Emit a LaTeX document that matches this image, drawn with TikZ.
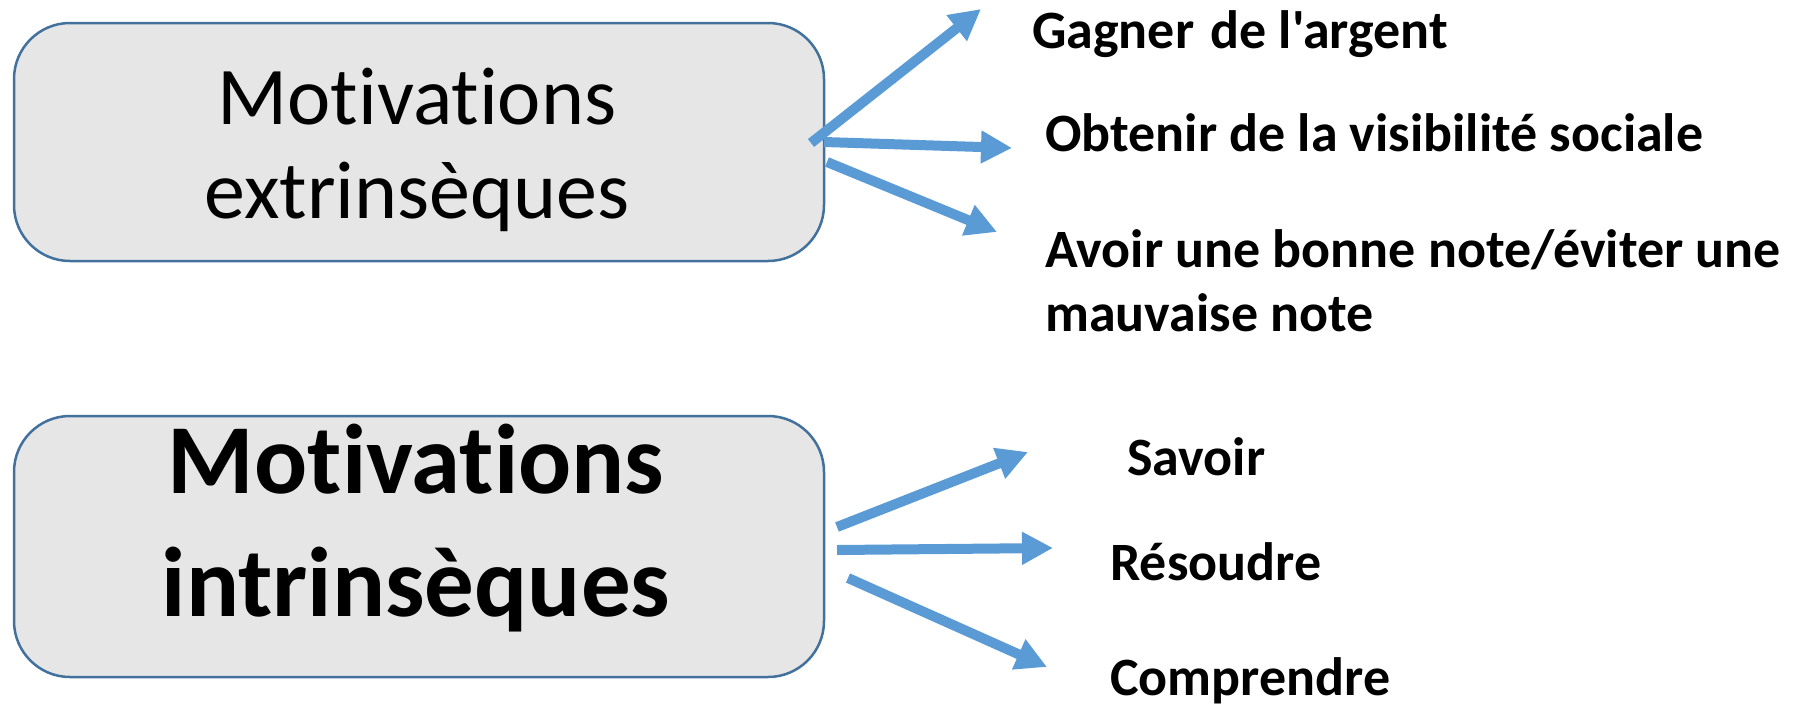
\documentclass[tikz,border=0pt]{standalone}
\usepackage{fontspec}
\setmainfont{Carlito}[Ligatures={NoCommon,TeXOff}]
\usetikzlibrary{arrows.meta}

\definecolor{boxfill}{HTML}{E6E6E6}
\definecolor{boxline}{HTML}{41719C}
\definecolor{arrowblue}{HTML}{5B9BD5}

\begin{document}
\begin{tikzpicture}[x=1pt,y=-1pt,
  motivbox/.style={draw=boxline, line width=2.5pt, fill=boxfill,
    rounded corners=56pt, inner sep=0pt},
  titleplain/.style={anchor=base, inner sep=0pt, font=\fontsize{82}{94}\selectfont},
  titlebold/.style={anchor=base, inner sep=0pt, font=\fontsize{99}{118}\selectfont\bfseries},
  item/.style={anchor=base west, inner sep=0pt, font=\fontsize{54}{64}\selectfont\bfseries},
  bigarrow/.style={draw=arrowblue, line width=10pt, line cap=butt,
    -{Triangle[length=31pt,width=31pt]}}
]
\useasboundingbox (0,0) rectangle (1800,707);

% the two category boxes
\node[motivbox, minimum width=810pt, minimum height=238pt] (ext) at (419,142) {};
\node[motivbox, minimum width=810pt, minimum height=261pt] (int) at (419,546.5) {};

% box titles
\node[titleplain] (ext1) at (417,124) {Motivations};
\node[titleplain] (ext2) at (417,218) {extrinsèques};
\node[titlebold] (int1) at (416,493) {Motivations};
\node[titlebold] (int2) at (416,616) {intrinsèques};

% extrinsic goals
\node[item] (argent) at (1032,48) {Gagner\hspace{4pt} de l'argent};
\node[item] (visib) at (1045,151) {Obtenir de la visibilité sociale};
\node[item] (note1) at (1045,267) {Avoir une bonne note/éviter une};
\node[item] (note2) at (1045,331) {mauvaise note};

% intrinsic goals
\node[item] (savoir) at (1127,475) {Savoir};
\node[item] (resoudre) at (1110,580) {Résoudre};
\node[item] (comprendre) at (1110,695) {Comprendre};

% arrow end points
\coordinate (e1s) at (811,143);
\coordinate (e1t) at (981,9);
\coordinate (e2s) at (824,142);
\coordinate (e2t) at (1012,148);
\coordinate (e3s) at (827,162);
\coordinate (e3t) at (997,232);
\coordinate (i1s) at (837,527);
\coordinate (i1t) at (1028,452);
\coordinate (i2s) at (837,550);
\coordinate (i2t) at (1053,548);
\coordinate (i3s) at (848,578);
\coordinate (i3t) at (1047,667);

\draw[bigarrow] (e1s) -- (e1t);
\draw[bigarrow] (e2s) -- (e2t);
\draw[bigarrow] (e3s) -- (e3t);
\draw[bigarrow] (i1s) -- (i1t);
\draw[bigarrow] (i2s) -- (i2t);
\draw[bigarrow] (i3s) -- (i3t);
\end{tikzpicture}
\end{document}
